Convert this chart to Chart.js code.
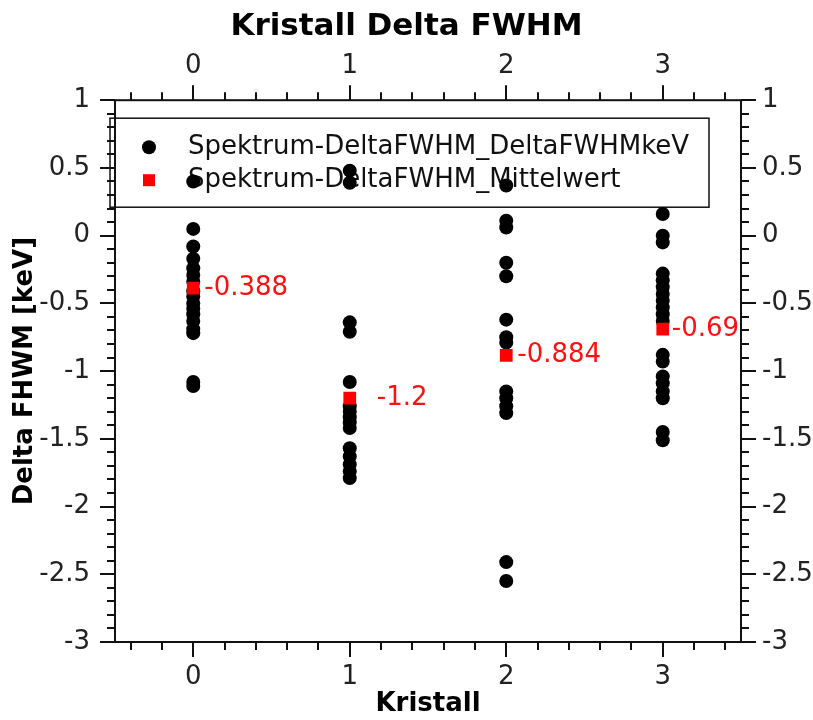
<!DOCTYPE html>
<html>
<head>
<meta charset="utf-8">
<script src="https://cdn.jsdelivr.net/npm/chart.js@4.4.1/dist/chart.umd.min.js"></script>
<style>
  html, body { margin: 0; padding: 0; background: #fff; }
</style>
</head>
<body>
<canvas id="myChart" width="813" height="720"></canvas>
<script>
// Kristall-Nummern und die Delta-FWHM-Werte je Kristall (keV)
const kristalle = [0, 1, 2, 3];
const deltaK0 = [0.40, 0.05, -0.08, -0.17, -0.24, -0.29, -0.34, -0.41, -0.45, -0.50, -0.54, -0.58, -0.63, -0.69, -0.72, -1.08, -1.11];
const deltaK1 = [0.48, 0.39, -0.64, -0.71, -1.08, -1.26, -1.30, -1.34, -1.38, -1.42, -1.57, -1.63, -1.69, -1.74, -1.79];
const deltaK2 = [0.37, 0.11, 0.06, -0.20, -0.30, -0.62, -0.75, -0.79, -1.15, -1.20, -1.26, -1.31, -2.41, -2.55];
const deltaK3 = [0.16, 0.0, -0.05, -0.28, -0.33, -0.38, -0.43, -0.48, -0.53, -0.58, -0.63, -0.88, -0.93, -1.04, -1.09, -1.15, -1.20, -1.45, -1.51];
const mittelwerte = [-0.388, -1.2, -0.884, -0.69];
const yTicks = [1, 0.5, 0, -0.5, -1, -1.5, -2, -2.5, -3];

const FONT = 'DejaVu Sans';
const spalten = [deltaK0, deltaK1, deltaK2, deltaK3];
const punkte = [];
spalten.forEach((werte, i) => werte.forEach(v => punkte.push({ x: kristalle[i], y: v })));
const mittel = kristalle.map((k, i) => ({ x: k, y: mittelwerte[i] }));

const tickFont = { family: FONT, size: 26 };
const titleFont = { family: FONT, size: 26, weight: 'bold' };

function xAchse(pos, pad, hoehe, titel) {
    return {
        type: 'linear', position: pos, min: -0.5, max: 3.5,
        grid: { display: false, drawTicks: false }, border: { display: false },
        afterBuildTicks: s => { s.ticks = kristalle.map(v => ({ value: v })); },
        ticks: { font: tickFont, color: '#222', padding: pad, maxRotation: 0, autoSkip: false, callback: v => String(v) },
        title: titel ? { display: true, text: titel, font: titleFont, color: '#000', padding: { top: 0, bottom: 0 } } : { display: false },
        afterFit: s => { s.height = hoehe; }
    };
}
function yAchse(pos, breite, pad, titel) {
    return {
        type: 'linear', position: pos, min: -3, max: 1,
        grid: { display: false, drawTicks: false }, border: { display: false },
        afterBuildTicks: s => { s.ticks = yTicks.map(v => ({ value: v })); },
        ticks: { font: tickFont, color: '#222', padding: pad, autoSkip: false, callback: v => String(v) },
        title: titel ? { display: true, text: titel, font: titleFont, color: '#000', padding: { top: 10, bottom: 0 } } : { display: false },
        afterFit: s => { s.width = breite; }
    };
}

// Rahmen und Haupt-/Nebenstriche auf allen vier Seiten
const rahmen = {
    id: 'rahmen',
    afterDraw(chart) {
        const { ctx, chartArea: a } = chart;
        const xs = chart.scales.x, ys = chart.scales.y;
        ctx.save();
        ctx.strokeStyle = '#111';
        ctx.lineWidth = 2;
        ctx.beginPath();
        for (let t = -4; t <= 34; t += 2) {
            const px = Math.round(xs.getPixelForValue(t / 10));
            const len = t % 10 === 0 ? 15 : 8;
            ctx.moveTo(px, a.bottom); ctx.lineTo(px, a.bottom + len);
            ctx.moveTo(px, a.top); ctx.lineTo(px, a.top - len);
        }
        for (let t = -30; t <= 10; t++) {
            const py = Math.round(ys.getPixelForValue(t / 10));
            const len = t % 5 === 0 ? 15 : 8;
            ctx.moveTo(a.left, py); ctx.lineTo(a.left - len, py);
            ctx.moveTo(a.right, py); ctx.lineTo(a.right + len, py);
        }
        ctx.stroke();
        ctx.strokeRect(a.left, a.top, a.right - a.left, a.bottom - a.top);
        ctx.restore();
    }
};

// Legende innerhalb der Zeichenfläche, Punkte liegen darüber
const legende = {
    id: 'legende',
    beforeDatasetsDraw(chart) {
        const { ctx, chartArea: a } = chart;
        const bx = a.left - 5, by = a.top + 18, bw = 599, bh = 89;
        ctx.save();
        ctx.fillStyle = '#fff';
        ctx.fillRect(bx, by, bw, bh);
        ctx.strokeStyle = '#111';
        ctx.lineWidth = 1.5;
        ctx.strokeRect(bx, by, bw, bh);
        ctx.font = `26px "${FONT}"`;
        ctx.textBaseline = 'middle';
        ctx.textAlign = 'left';
        chart.data.datasets.forEach((ds, i) => {
            const y = by + 29 + i * 33;
            ctx.fillStyle = ds.backgroundColor;
            Chart.helpers.drawPoint(ctx, { pointStyle: ds.pointStyle, radius: ds.pointStyle === 'rect' ? 8.5 : 7, rotation: 0, borderWidth: 0 }, bx + 39, y);
            ctx.fillStyle = '#111';
            ctx.fillText(ds.label, bx + 78, y);
        });
        ctx.restore();
    }
};

// Zahlenwerte neben den Mittelwert-Quadraten
const mittelLabels = {
    id: 'mittelLabels',
    afterDatasetsDraw(chart, args, opts) {
        const { ctx } = chart;
        const meta = chart.getDatasetMeta(1);
        ctx.save();
        ctx.font = `26px "${FONT}"`;
        ctx.fillStyle = '#ff1010';
        ctx.textBaseline = 'middle';
        ctx.textAlign = 'left';
        meta.data.forEach((el, i) => {
            ctx.fillText(String(mittelwerte[i]), el.x + opts.abstand[i], el.y);
        });
        ctx.restore();
    }
};

const ctx = document.getElementById('myChart');
const myChart = new Chart(ctx, {
    type: 'scatter',
    data: {
        datasets: [{
            label: 'Spektrum-DeltaFWHM_DeltaFWHMkeV',
            data: punkte,
            pointStyle: 'circle',
            pointRadius: 7,
            pointBorderWidth: 0,
            backgroundColor: '#000',
            borderColor: '#000',
            order: 1
        }, {
            label: 'Spektrum-DeltaFWHM_Mittelwert',
            data: mittel,
            pointStyle: 'rect',
            pointRadius: 9,
            pointBorderWidth: 0,
            backgroundColor: '#ff0000',
            borderColor: '#ff0000',
            order: 0
        }]
    },
    options: {
        responsive: false,
        animation: false,
        devicePixelRatio: 1,
        layout: { padding: 0 },
        scales: {
            x: xAchse('bottom', 20, 78, 'Kristall'),
            x2: xAchse('top', 18, 55, null),
            y: yAchse('left', 115, 25, 'Delta FHWM [keV]'),
            y2: yAchse('right', 72, 21, null)
        },
        plugins: {
            legend: { display: false },
            tooltip: { enabled: false },
            title: {
                display: true,
                text: 'Kristall Delta FWHM',
                color: '#000',
                font: { family: FONT, size: 31, weight: 'bold' },
                padding: { top: 8, bottom: 0 }
            },
            mittelLabels: { abstand: [11, 27, 11, 9] }
        }
    },
    plugins: [rahmen, legende, mittelLabels]
});
</script>
</body>
</html>
